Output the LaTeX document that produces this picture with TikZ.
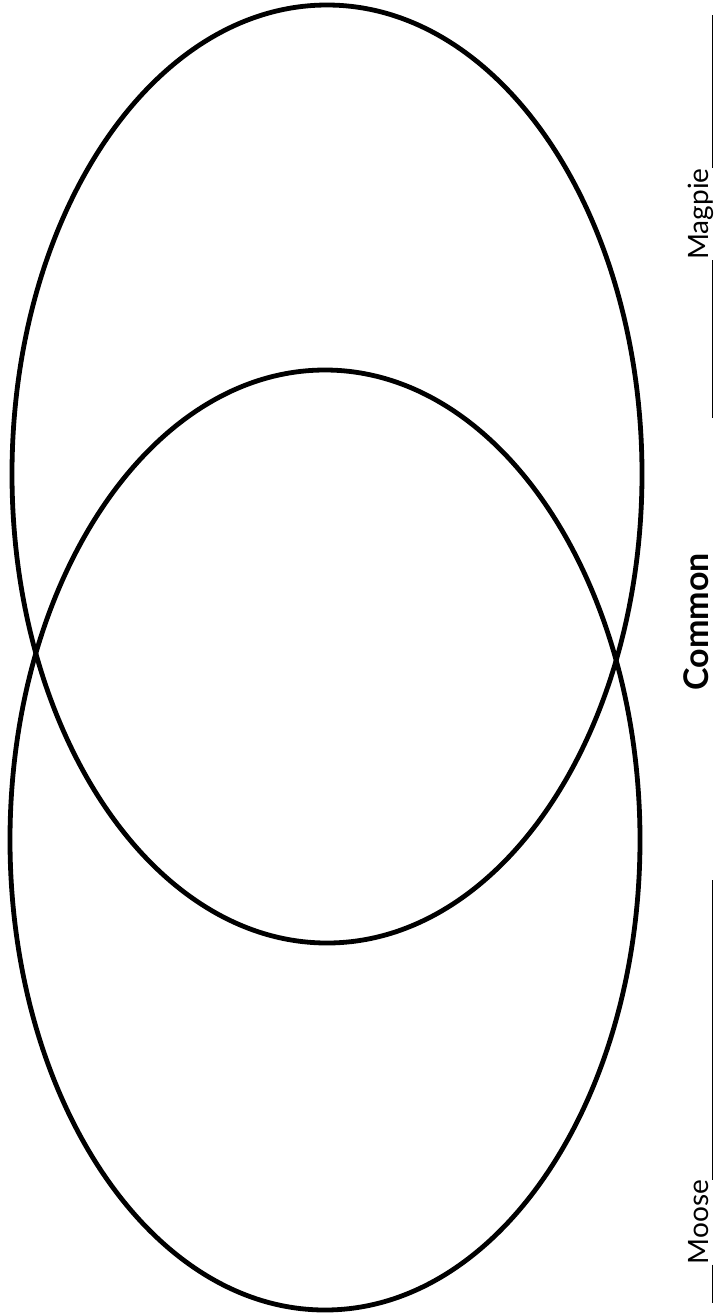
\documentclass[tikz,border=0pt]{standalone}
\usepackage{fontspec}
\setmainfont{Lato}
\usepackage{tikz}

\tikzset{
  setline/.style={line width=2.4pt},
  rule/.style={line width=0.7pt},
  label/.style={rotate=90,inner sep=0pt,anchor=base,font=\fontsize{14}{16}\selectfont}
}

\begin{document}
\begin{tikzpicture}[x=0.5pt,y=-0.5pt]
  \useasboundingbox (0,0) rectangle (714,1314);
  % the two sets
  \draw[setline] (327,474) ellipse [x radius=315, y radius=469];
  \draw[setline] (325,840) ellipse [x radius=315, y radius=470];
  % titles along the right edge
  \node[label] (magpie) at (708,214) {Magpie};
  \node[label,font=\fontsize{17}{19}\selectfont\bfseries] (common) at (708,622) {Common};
  \node[label] (moose) at (708,1222) {Moose};
  \coordinate (mtop) at (712.5,15);
  \coordinate (mbot) at (712.5,418);
  \coordinate (otop) at (712.5,880);
  \coordinate (obot) at (712.5,1303);
  \draw[rule] (mtop) -- (mtop |- magpie.east);
  \draw[rule] (mtop |- magpie.west) -- (mbot);
  \draw[rule] (otop) -- (otop |- moose.east);
  \draw[rule] (otop |- moose.west) -- (obot);
\end{tikzpicture}
\end{document}
